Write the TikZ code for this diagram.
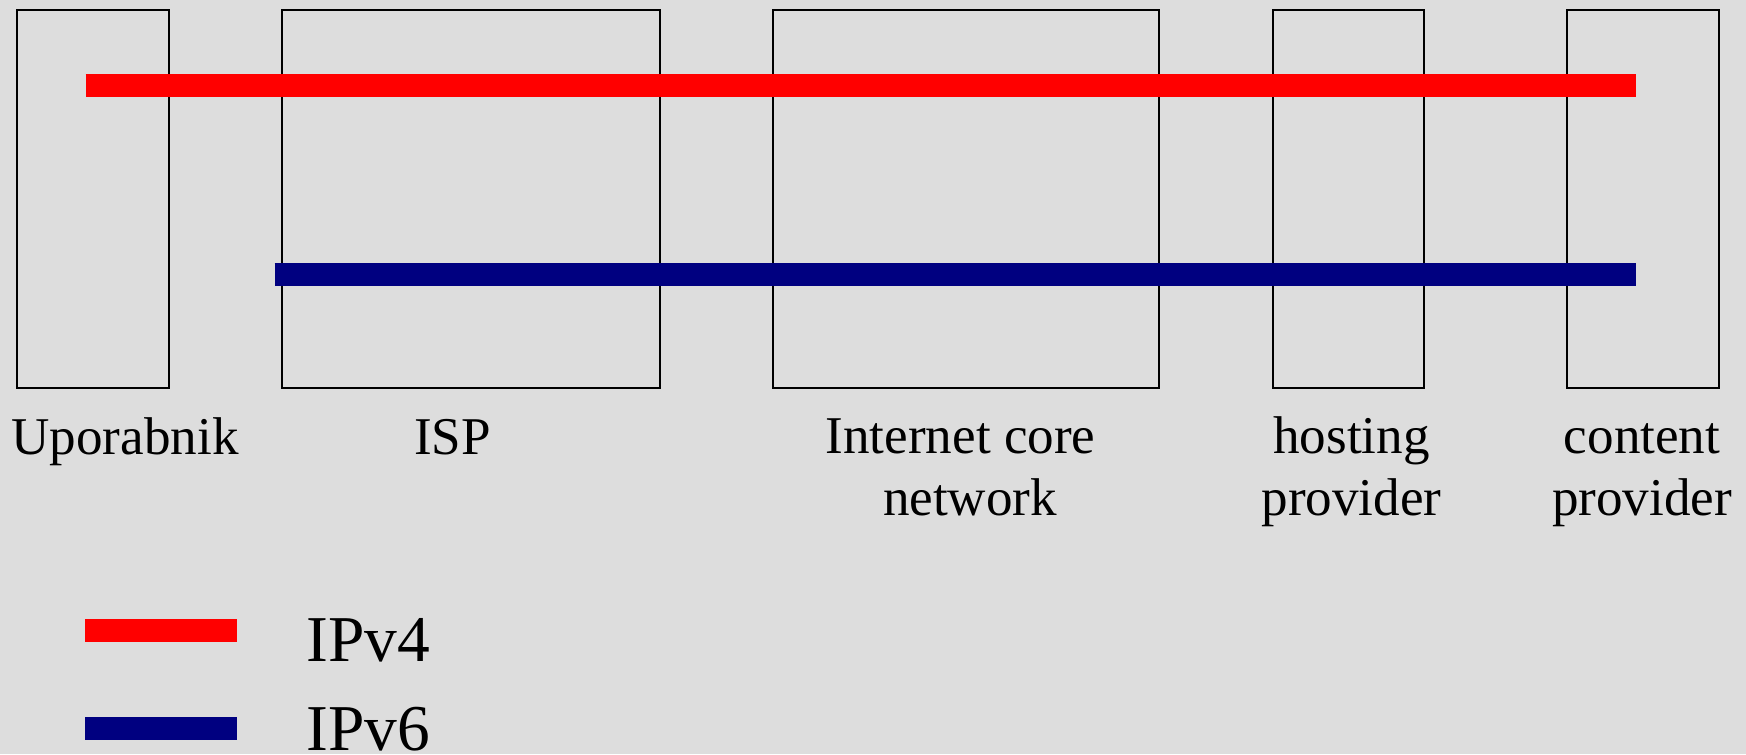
\documentclass[tikz,border=0pt]{standalone}
\usepackage{fontspec}
\setmainfont{Liberation Serif}
\usepackage{tikz}
\usetikzlibrary{fit}
\definecolor{bggray}{RGB}{221,221,221}
\definecolor{vfourred}{RGB}{255,0,0}
\definecolor{vsixblue}{RGB}{0,0,128}
\tikzset{
  netbox/.style={draw=black, line width=0.65pt, inner sep=0pt},
  netlabel/.style={anchor=base, align=center, inner sep=0pt, font=\fontsize{15.1}{17.6}\selectfont},
  legendlabel/.style={anchor=base west, inner sep=0pt, font=\fontsize{18.6}{22}\selectfont},
  ipvfour/.style={draw=vfourred, line width=0.228cm},
  ipvsix/.style={draw=vsixblue, line width=0.222cm}
}

\begin{document}
\begin{tikzpicture}[x=0.01cm, y=-0.01cm]
\fill[bggray] (0,0) rectangle (1746,754);
\useasboundingbox (0,0) rectangle (1746,754);

\node[netbox, fit={(17.3,10) (169.3,388)}] (user) {};
\node[netbox, fit={(282,10) (660,388)}] (isp) {};
\node[netbox, fit={(773.3,10) (1159,388)}] (core) {};
\node[netbox, fit={(1272.7,10) (1424,388)}] (hosting) {};
\node[netbox, fit={(1567.3,10) (1718.7,388)}] (content) {};

\node[netlabel] (userlbl) at (125,454) {Uporabnik};
\node[netlabel] (isplbl) at (452.5,454) {ISP};
\node[netlabel] (corelbl) at (970,515.3) {Internet core\hspace*{0.19cm}\\network};
\node[netlabel] (hostinglbl) at (1351.5,515.6) {hosting\\provider};
\node[netlabel] (contentlbl) at (1642,515.6) {content\\provider};

\coordinate (vfourA) at (85.7,85.6);
\coordinate (vfourB) at (880,85.6);
\coordinate (vfourC) at (804,85.8);
\coordinate (vfourD) at (1635.7,85.8);
\coordinate (vsixA) at (274.7,274.4);
\coordinate (vsixB) at (1636,274.4);
\draw[ipvfour] (vfourA) -- (vfourB);
\draw[ipvfour] (vfourC) -- (vfourD);
\draw[ipvsix] (vsixA) -- (vsixB);

\coordinate (legfourA) at (85.3,630.2);
\coordinate (legfourB) at (237.3,630.2);
\coordinate (legsixA) at (85.3,728.5);
\coordinate (legsixB) at (237.3,728.5);
\draw[ipvfour] (legfourA) -- (legfourB);
\draw[ipvsix] (legsixA) -- (legsixB);
\node[legendlabel] (legfour) at (306,661) {IPv4};
\node[legendlabel] (legsix) at (306,750.7) {IPv6};
\end{tikzpicture}
\end{document}
